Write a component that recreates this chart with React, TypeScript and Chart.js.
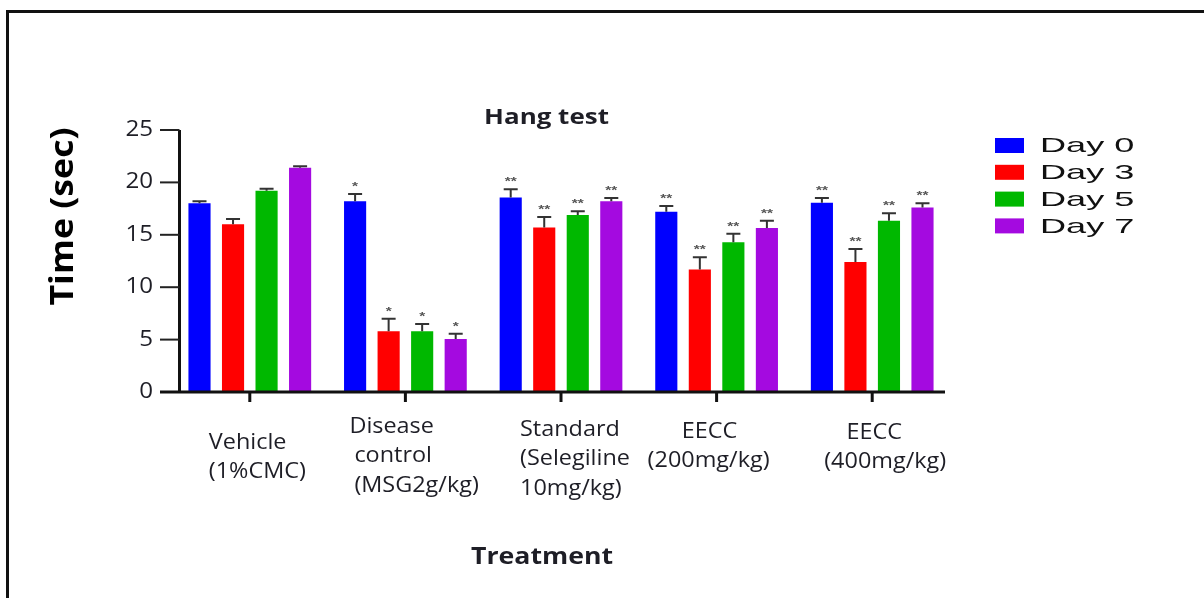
import React, { useEffect, useRef } from "react";
import { Chart, registerables } from "chart.js";

Chart.register(...registerables);

// Treatment groups (multi-line axis labels)
const categories: string[][] = [
  ["Vehicle", "(1%CMC)"],
  ["Disease", "control", "(MSG2g/kg)"],
  ["Standard", "(Selegiline", "10mg/kg)"],
  ["EECC", "(200mg/kg)"],
  ["EECC", "(400mg/kg)"],
];

const seriesNames = ["Day 0", "Day 3", "Day 5", "Day 7"];
const seriesColors = ["#0000ff", "#ff0000", "#00b800", "#a40ae0"];

// Mean hang time (sec)
const day0 = [18.0, 18.2, 18.55, 17.2, 18.05];
const day3 = [16.0, 5.8, 15.7, 11.7, 12.4];
const day5 = [19.2, 5.8, 16.9, 14.3, 16.35];
const day7 = [21.4, 5.05, 18.2, 15.65, 17.6];

// SEM
const day0Err = [0.2, 0.7, 0.8, 0.55, 0.45];
const day3Err = [0.5, 1.2, 1.0, 1.15, 1.25];
const day5Err = [0.2, 0.7, 0.35, 0.8, 0.7];
const day7Err = [0.15, 0.5, 0.3, 0.7, 0.4];

// Significance marks per treatment group
const significance = ["", "*", "**", "**", "**"];

const yTicks = [0, 5, 10, 15, 20, 25];

const TEXT = "#1e1e26";

function scaledText(
  ctx: CanvasRenderingContext2D,
  text: string,
  x: number,
  y: number,
  font: string,
  sx: number,
  align: CanvasTextAlign,
  color: string = TEXT
) {
  ctx.save();
  ctx.translate(x, y);
  ctx.scale(sx, 1);
  ctx.font = font;
  ctx.fillStyle = color;
  ctx.textAlign = align;
  ctx.textBaseline = "middle";
  ctx.fillText(text, 0, 0);
  ctx.restore();
}

// Per-group placement of the multi-line treatment labels
const labelLayout = [
  { top: 443, lines: [{ dx: -41, align: "left" }, { dx: -41, align: "left" }] },
  { top: 427, lines: [{ dx: -56, align: "left" }, { dx: -51, align: "left" }, { dx: -51, align: "left" }] },
  { top: 430, lines: [{ dx: -41, align: "left" }, { dx: -41, align: "left" }, { dx: -41, align: "left" }] },
  { top: 432, lines: [{ dx: -7, align: "center" }, { dx: -8, align: "center" }] },
  { top: 433, lines: [{ dx: 2, align: "center" }, { dx: 13, align: "center" }] },
];

const decorPlugin = {
  id: "hangDecor",
  afterDatasetsDraw(chart: any) {
    const ctx: CanvasRenderingContext2D = chart.ctx;
    const xs = chart.scales.x;
    const ys = chart.scales.y;
    const y0 = ys.getPixelForValue(0);
    const yTop = ys.getPixelForValue(25);
    const axisX = 179.5;

    ctx.save();

    // outer frame
    ctx.fillStyle = "#111";
    ctx.fillRect(6, 10, 3, 600);
    ctx.fillRect(6, 10, 1210, 3);

    // error bars and significance marks
    const errs = [day0Err, day3Err, day5Err, day7Err];
    chart.data.datasets.forEach((ds: any, di: number) => {
      const meta = chart.getDatasetMeta(di);
      meta.data.forEach((bar: any, i: number) => {
        const v = ds.data[i];
        const e = errs[di][i];
        const yb = ys.getPixelForValue(v);
        const yc = ys.getPixelForValue(v + e);
        ctx.strokeStyle = "#333";
        ctx.lineWidth = 2;
        ctx.beginPath();
        ctx.moveTo(bar.x, yb);
        ctx.lineTo(bar.x, yc);
        ctx.moveTo(bar.x - 7, yc);
        ctx.lineTo(bar.x + 7, yc);
        ctx.stroke();
        const mark = significance[i];
        if (mark) {
          scaledText(ctx, mark, bar.x, yc - 7, "bold 11px 'Liberation Sans'", 1.4, "center", "#555");
        }
      });
    });

    // y axis
    ctx.strokeStyle = "#111";
    ctx.lineWidth = 3;
    ctx.beginPath();
    ctx.moveTo(axisX, yTop);
    ctx.lineTo(axisX, y0 + 1);
    ctx.stroke();
    ctx.lineWidth = 2;
    yTicks.forEach((t) => {
      const py = ys.getPixelForValue(t);
      ctx.strokeStyle = "#222";
      ctx.beginPath();
      ctx.moveTo(160, py);
      ctx.lineTo(axisX, py);
      ctx.stroke();
      scaledText(ctx, String(t), 153, py, "21px 'Open Sans'", 1.15, "right");
    });

    // x axis
    ctx.strokeStyle = "#111";
    ctx.lineWidth = 3;
    ctx.beginPath();
    ctx.moveTo(160, y0);
    ctx.lineTo(945, y0);
    ctx.stroke();
    categories.forEach((lines, i) => {
      const cx = xs.getPixelForValue(i);
      ctx.beginPath();
      ctx.moveTo(cx, y0);
      ctx.lineTo(cx, y0 + 10);
      ctx.stroke();
      const lay = labelLayout[i];
      lines.forEach((ln, k) => {
        const spec = lay.lines[k];
        scaledText(ctx, ln, cx + spec.dx, lay.top + k * 29.5, "21px 'Open Sans'", 1.115, spec.align as CanvasTextAlign);
      });
    });

    // titles
    scaledText(ctx, "Hang test", 546.5, 118, "bold 22px 'Open Sans'", 1.18, "center");
    scaledText(ctx, "Treatment", 542, 557, "bold 23px 'Open Sans'", 1.16, "center");
    ctx.save();
    ctx.translate(64, 216.5);
    ctx.rotate(-Math.PI / 2);
    ctx.scale(1.08, 1);
    ctx.font = "bold 33px 'Open Sans'";
    ctx.fillStyle = "#000";
    ctx.textAlign = "center";
    ctx.textBaseline = "middle";
    ctx.fillText("Time (sec)", 0, 0);
    ctx.restore();

    // legend
    chart.data.datasets.forEach((ds: any, di: number) => {
      const cy = 145.5 + di * 26.8;
      ctx.fillStyle = ds.backgroundColor;
      ctx.fillRect(995, cy - 7.5, 29, 15);
      scaledText(ctx, ds.label, 1040, cy + 1, "21px 'Liberation Sans'", 1.72, "left", "#111");
    });

    ctx.restore();
  },
};

export default function App() {
  const canvasRef = useRef<HTMLCanvasElement | null>(null);

  useEffect(() => {
    const canvas = canvasRef.current;
    if (!canvas) return;
    const values = [day0, day3, day5, day7];
    const chart = new Chart(canvas, {
      type: "bar",
      data: {
        labels: categories,
        datasets: seriesNames.map((name, i) => ({
          label: name,
          data: values[i],
          backgroundColor: seriesColors[i],
          borderWidth: 0,
          categoryPercentage: 0.862,
          barPercentage: 0.66,
        })),
      },
      options: {
        responsive: false,
        animation: false,
        devicePixelRatio: 1,
        layout: { padding: { left: 172, right: 254, top: 130, bottom: 206 } },
        plugins: {
          legend: { display: false },
          title: { display: false },
          tooltip: { enabled: false },
        },
        scales: {
          x: { display: false },
          y: { display: false, min: 0, max: 25 },
        },
      },
      plugins: [decorPlugin],
    });
    return () => chart.destroy();
  }, []);

  return (
    <div
      style={{
        position: "fixed",
        left: 0,
        top: 0,
        width: 1204,
        height: 598,
        background: "#fff",
        overflow: "hidden",
      }}
    >
      <canvas ref={canvasRef} width={1204} height={598} style={{ display: "block" }} />
    </div>
  );
}
